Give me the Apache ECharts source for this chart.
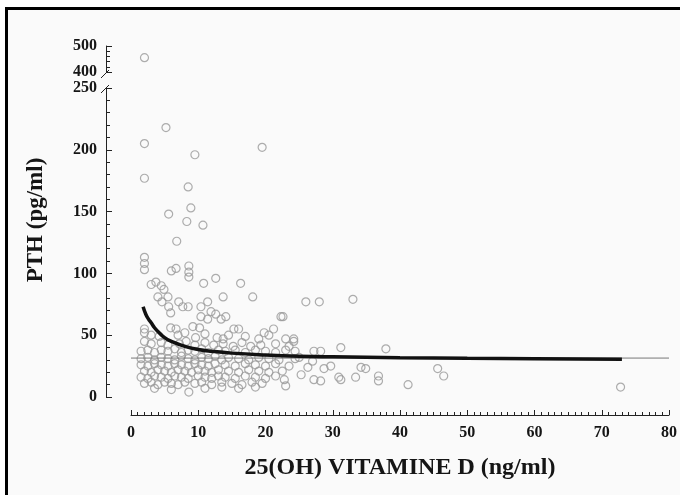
<!DOCTYPE html>
<html>
<head>
<meta charset="utf-8">
<script src="https://cdn.jsdelivr.net/npm/echarts@6/dist/echarts.min.js"></script>
<style>
  html, body { margin: 0; padding: 0; background: #fff; }
  #frame {
    position: absolute; left: 5px; top: 7px; width: 690px; height: 500px;
    border-left: 3px solid #000; border-top: 3px solid #000; background: #fafafa;
  }
  #chart { position: absolute; left: 0; top: 0; width: 680px; height: 495px; }
</style>
</head>
<body>
<div id="frame"></div>
<div id="chart"></div>
<script>
// 25(OH) vitamine D (ng/ml) vs PTH (pg/ml)
const vitD = [
  // high values
  2, 2, 5.2, 9.5, 19.5, 8.5, 8.9, 5.6, 8.3, 10.7, 6.8,
  2, 2, 2, 6, 6.7, 8.6, 8.6, 8.6, 10.8, 12.6, 16.3, 18.1, 13.7, 3, 3.7, 4.5, 4.9, 5.5, 4, 4.6,
  7.1, 7.7, 8.5, 5.6, 5.9, 10.4, 11.4, 11.9, 10.4, 11.4, 12.6, 13.4, 14.1, 22.3,
  2, 2, 5.9, 6.7, 9.2, 10.2, 12.8, 13.7, 15.3, 16, 19.8, 21.2, 17.8, 24.2,
  // right side
  26, 28, 33, 22.6, 23, 24.2, 24.4, 24.4, 27.2, 28.2, 31.2, 37.9, 34.2, 34.9, 45.6, 46.5,
  41.2, 36.8, 36.8, 33.4, 30.9, 31.2, 27.2, 28.2, 25.3, 26.3, 22.8, 23, 28.7, 29.7, 27, 72.8,
  // dense cluster
  3, 4.2, 7, 8, 9.6, 11, 14.5, 17, 19, 20.5,
  2, 3, 4.5, 5.5, 7.2, 8.2, 9.5, 11, 12.3, 13.7, 15.2, 16.5, 19.3, 21.5, 23.5,
  1.5, 2.5, 3.5, 4.5, 5.5, 6.5, 7.5, 8.5, 9.5, 10.5, 11.5, 13, 14, 15.5, 17, 18.5, 20, 21.5, 23,
  1.5, 2.5, 3.5, 4.5, 5.5, 6.5, 7.5, 8.5, 9.5, 10.5, 11.5, 12.5, 13.5, 14.5, 16, 17.5, 19, 20.5, 22, 25,
  1.5, 2.5, 3.5, 4.5, 5.5, 6.5, 7.5, 8.5, 9.5, 10.5, 11.5, 12.5, 14, 15.5, 17, 18.5, 20, 21.5, 23.5,
  2, 3, 4, 5, 6, 7, 8, 9, 10, 11, 12, 13, 14.5, 16, 17.5, 19, 20.5, 22.5,
  1.5, 2.5, 3.5, 4.5, 5.5, 6.5, 7.5, 8.5, 10, 11, 12, 13, 14, 15.5, 17, 18.5, 20, 21.5,
  2, 3, 4, 5, 6, 7, 8, 9.5, 10.5, 12, 13.5, 15, 16.5, 18, 19.5,
  3.5, 6, 8.6, 11, 13.5, 16, 18.5
]
const pth = [
  205, 177, 218, 196, 202, 170, 153, 148, 142, 139, 126,
  113, 108, 103, 102, 104, 106, 101, 97, 92, 96, 92, 81, 81, 91, 93, 90, 87, 81, 81, 77,
  77, 73, 73, 73, 68, 73, 77, 69, 65, 63, 67, 63, 65, 65,
  55, 52, 56, 55, 57, 56, 48, 47, 55, 55, 52, 55, 41, 47,
  77, 77, 79, 65, 47, 45, 37, 31, 37, 37, 40, 39, 24, 23, 23, 17,
  10, 17, 13, 16, 16, 14, 14, 13, 18, 24, 14, 9, 23, 25, 29, 8,
  50, 49, 50, 52, 48, 51, 50, 49, 47, 50,
  45, 43, 44, 42, 43, 45, 42, 44, 42, 43, 41, 44, 42, 43, 41,
  37, 38, 36, 38, 37, 39, 36, 38, 37, 39, 36, 38, 37, 38, 36, 38, 37, 36, 38,
  31, 32, 30, 32, 31, 30, 33, 31, 30, 32, 31, 33, 30, 32, 31, 30, 32, 31, 30, 32,
  26, 25, 27, 26, 25, 27, 26, 25, 27, 26, 25, 27, 26, 25, 27, 26, 25, 27, 25,
  21, 20, 22, 21, 20, 22, 21, 20, 22, 21, 20, 22, 21, 20, 22, 21, 20, 21,
  16, 15, 17, 16, 15, 17, 16, 15, 17, 16, 15, 17, 16, 15, 17, 16, 15, 17,
  11, 12, 10, 12, 11, 10, 12, 11, 12, 10, 12, 11, 10, 12, 11,
  7, 6, 4, 7, 8, 7, 8
]
// point above the axis break
const vitDHigh = [2]
const pthHigh = [455]

// fitted curve
const fitX = [1.8, 2.2, 2.6, 3, 3.5, 4, 5, 6, 8, 10, 12, 15, 20, 25, 30, 40, 50, 60, 73]
const fitY = [73, 67, 63, 60, 56, 53, 48, 45, 41, 38.5, 37, 35.5, 34, 33, 32.5, 31.8, 31.3, 31, 30.5]

// horizontal reference level
const refX = [0, 80]
const refY = [31.5, 31.5]

const xTicks = { min: 0, max: 80, interval: 10 }
const yLowTicks = { min: 0, max: 250, interval: 50 }
const yHighTicks = { min: 400, max: 500, interval: 100 }

const zip = (a, b) => a.map((v, i) => [v, b[i]])
const FONT = "'Liberation Serif', 'DejaVu Serif', serif"

const chart = echarts.init(document.getElementById('chart'))

const labelStyle = { fontFamily: FONT, fontWeight: 'bold', fontSize: 16, color: '#151515' }
const axisLine = { show: true, onZero: false, lineStyle: { color: '#222', width: 1 } }
const titleStyle = { fontFamily: FONT, fontWeight: 'bold', fontSize: 24, color: '#151515' }
const markStyle = { color: 'rgba(0,0,0,0)', borderColor: '#999', borderWidth: 1.2 }

chart.setOption({
  animation: false,
  grid: [
    { left: 131, right: 10, top: 88, bottom: 98 },
    { left: 131, right: 10, top: 46, height: 26 }
  ],
  xAxis: [
    {
      type: 'value', gridIndex: 0, ...xTicks, offset: 18,
      axisLine,
      axisTick: { show: true, inside: true, length: 5, lineStyle: { color: '#222' } },
      minorTick: { show: true, splitNumber: 10, length: 3, lineStyle: { color: '#222', width: 1 } },
      splitLine: { show: false },
      axisLabel: { ...labelStyle, margin: 10 },
      name: '25(OH) VITAMINE D (ng/ml)',
      nameLocation: 'middle', nameGap: 41,
      nameTextStyle: titleStyle
    },
    { type: 'value', gridIndex: 1, ...xTicks, show: false }
  ],
  yAxis: [
    {
      type: 'value', gridIndex: 0, ...yLowTicks, offset: 25,
      axisLine,
      axisTick: { show: true, inside: true, length: 6, lineStyle: { color: '#222' } },
      minorTick: { show: true, splitNumber: 5, length: 4, lineStyle: { color: '#222' } },
      splitLine: { show: false },
      axisLabel: { ...labelStyle, margin: 9 }
    },
    {
      type: 'value', gridIndex: 1, ...yHighTicks, offset: 25,
      axisLine,
      axisTick: { show: true, inside: true, length: 6, lineStyle: { color: '#222' } },
      minorTick: { show: true, splitNumber: 5, length: 4, lineStyle: { color: '#222' } },
      splitLine: { show: false },
      axisLabel: { ...labelStyle, margin: 9 }
    }
  ],
  graphic: [
    {
      type: 'text', x: 36, y: 220, rotation: Math.PI / 2,
      style: {
        text: 'PTH (pg/ml)', font: 'bold 23px ' + FONT, fill: '#151515',
        align: 'center', verticalAlign: 'middle'
      }
    },
    { type: 'line', shape: { x1: 101, y1: 78, x2: 109, y2: 70 }, style: { stroke: '#222', lineWidth: 1 } },
    { type: 'line', shape: { x1: 101, y1: 93, x2: 109, y2: 85 }, style: { stroke: '#222', lineWidth: 1 } }
  ],
  series: [
    {
      type: 'scatter', xAxisIndex: 0, yAxisIndex: 0,
      data: zip(vitD, pth),
      symbol: 'circle', symbolSize: 8,
      itemStyle: markStyle,
      silent: true
    },
    {
      type: 'scatter', xAxisIndex: 1, yAxisIndex: 1,
      data: zip(vitDHigh, pthHigh),
      symbol: 'circle', symbolSize: 8,
      itemStyle: markStyle,
      silent: true
    },
    {
      type: 'line', xAxisIndex: 0, yAxisIndex: 0,
      data: zip(refX, refY),
      symbol: 'none',
      lineStyle: { color: '#777', width: 1 },
      silent: true, z: 3
    },
    {
      type: 'line', xAxisIndex: 0, yAxisIndex: 0,
      data: zip(fitX, fitY),
      symbol: 'none', smooth: true,
      lineStyle: { color: '#111', width: 3.5 },
      silent: true, z: 4
    }
  ]
})
</script>
</body>
</html>
